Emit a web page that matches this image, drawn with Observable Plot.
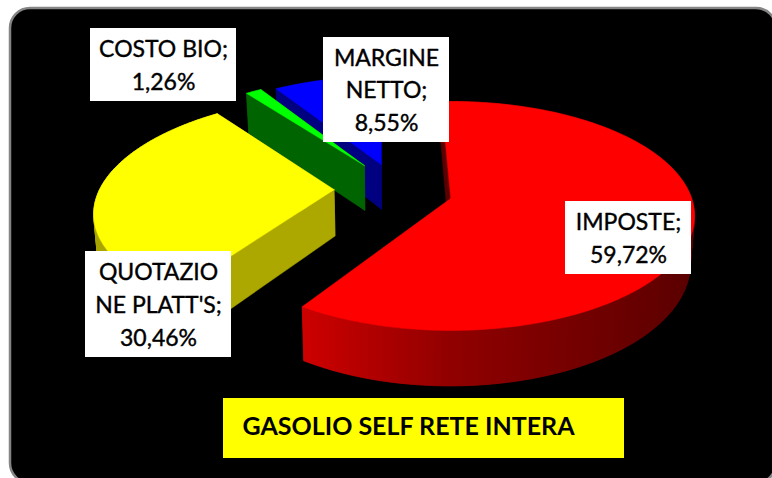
<!DOCTYPE html>
<html>
<head>
<meta charset="utf-8">
<script src="https://cdn.jsdelivr.net/npm/d3@7"></script>
<script src="https://cdn.jsdelivr.net/npm/@observablehq/plot@0.6"></script>
<style>
html,body{margin:0;padding:0;background:#fff;overflow:hidden}
svg{display:block}
</style>
</head>
<body>
<div id="chart"></div>
<script>
// Chart values
const names = ["IMPOSTE", "QUOTAZIONE PLATT'S", "COSTO BIO", "MARGINE NETTO"];
const labelLines = ["IMPOSTE;", "QUOTAZIO\nNE PLATT'S;", "COSTO BIO;", "MARGINE\nNETTO;"];
const shares = [59.72, 30.46, 1.26, 8.55];
const topColors = ["#ff0000", "#ffff00", "#00ff00", "#0000ff"];
const cutColors = ["#5a0000", "#aca800", "#006400", "#000080"];
const title = "GASOLIO SELF RETE INTERA";

// Explosion of each slice on the pie plane
const centerX = [0.005, -0.485, -0.37, -0.297];
const centerZ = [0, 0.08, 0.309, 0.318];
const radius = [1, 0.985, 1, 1];
const drawOrder = [3, 2, 1, 0];

// Label boxes
const boxX1 = [565, 85, 90, 323];
const boxX2 = [691, 231, 236, 449];
const boxY1 = [201, 251, 28, 37];
const boxY2 = [274, 357, 101, 142];

// Perspective of the pie
const cx = 449, cy = 198, a = 241, b = 111.8, k = 0.1527, depth = 47, startAngle = -2.5;
const vanishX = 400, shrink = 0.985;

const project = (X, Z) => {
  const d = 1 + k * Z;
  return [cx + a * X / d, cy - b * Z / d];
};
const projectLow = (X, Z) => {
  const [x, y] = project(X, Z);
  return [vanishX + (x - vanishX) * shrink, y + depth / (1 + k * Z)];
};
const rad = d => d * Math.PI / 180;

const rows = [];
const addPoly = (id, fill, pts) => pts.forEach(([x, y]) => rows.push({id, fill, x, y}));

let acc = startAngle;
const angles = shares.map(v => {
  const s = acc;
  acc += v / 100 * 360;
  return [s, acc];
});

const rimRed = d3.scaleLinear().domain([300, 450, 690]).range(["#cf0000", "#920000", "#5c0000"]);
const rimYellow = d3.scaleLinear().domain([90, 240]).range(["#a8a400", "#c8c400"]);
const rimShade = {
  0: x => rimRed(x),
  1: x => rimYellow(x),
  2: () => cutColors[2],
  3: () => cutColors[3]
};

for (const i of drawOrder) {
  const [a0, a1] = angles[i];
  const X0 = centerX[i], Z0 = centerZ[i], r = radius[i];
  const pt = t => [X0 + r * Math.sin(rad(t)), Z0 + r * Math.cos(rad(t))];
  const apexTop = project(X0, Z0), apexLow = projectLow(X0, Z0);
  // cut faces
  for (const [n, t] of [[0, a0], [1, a1]]) {
    const [X, Z] = pt(t);
    addPoly(`cut${i}${n}`, cutColors[i], [apexTop, project(X, Z), projectLow(X, Z), apexLow, apexTop]);
  }
  // outer wall, facet by facet, each overlapping the next so no seams show
  for (let t = a0; t < a1; t += 1.5) {
    const t2 = Math.min(t + 3, a1);
    const [X, Z] = pt(t), [X2, Z2] = pt(t2);
    const p = project(X, Z);
    addPoly(`rim${i}_${t}`, rimShade[i](p[0]),
      [p, project(X2, Z2), projectLow(X2, Z2), projectLow(X, Z), p]);
  }
  // top surface
  const top = [apexTop];
  for (let t = a0; t < a1; t += 1) top.push(project(...pt(t)));
  top.push(project(...pt(a1)), apexTop);
  addPoly(`top${i}`, topColors[i], top);
}

const fmt = v => v.toFixed(2).replace(".", ",") + "%";
const labels = shares.map((v, i) => ({
  x1: boxX1[i], x2: boxX2[i], y1: boxY1[i], y2: boxY2[i],
  text: labelLines[i] + "\n" + fmt(v)
}));

const plot = Plot.plot({
  width: 772,
  height: 478,
  margin: 0,
  x: {domain: [0, 772], range: [0, 772], axis: null},
  y: {domain: [0, 478], range: [0, 478], axis: null},
  color: {type: "identity"},
  style: {background: "#fff", fontFamily: "Lato, 'Noto Sans', sans-serif"},
  marks: [
    Plot.rect([{x1: 10, x2: 776, y1: 8, y2: 483}], {
      x1: "x1", x2: "x2", y1: "y1", y2: "y2", fill: "#000", stroke: "#858585", strokeWidth: 2.5, rx: 20
    }),
    Plot.line(rows, {x: "x", y: "y", z: "id", fill: "fill", stroke: "fill", strokeWidth: 0.5, curve: "linear"}),
    Plot.rect(labels, {x1: "x1", x2: "x2", y1: "y1", y2: "y2", fill: "#fff"}),
    Plot.text(labels, {
      x: d => (d.x1 + d.x2) / 2,
      y: d => (d.y1 + d.y2) / 2,
      dy: -2,
      text: "text",
      fill: "#000",
      stroke: "#000",
      strokeWidth: 0.4,
      fontSize: 23,
      lineHeight: 1.42,
      textAnchor: "middle",
      lineAnchor: "middle"
    }),
    Plot.rect([{x1: 223, x2: 624, y1: 398, y2: 458}], {x1: "x1", x2: "x2", y1: "y1", y2: "y2", fill: "#ffff00"}),
    Plot.text([title], {
      x: [408], y: [426], text: d => d, fill: "#000", fontSize: 25, fontWeight: 700,
      textAnchor: "middle", lineAnchor: "middle"
    })
  ]
});
document.getElementById("chart").appendChild(plot);
</script>
</body>
</html>
